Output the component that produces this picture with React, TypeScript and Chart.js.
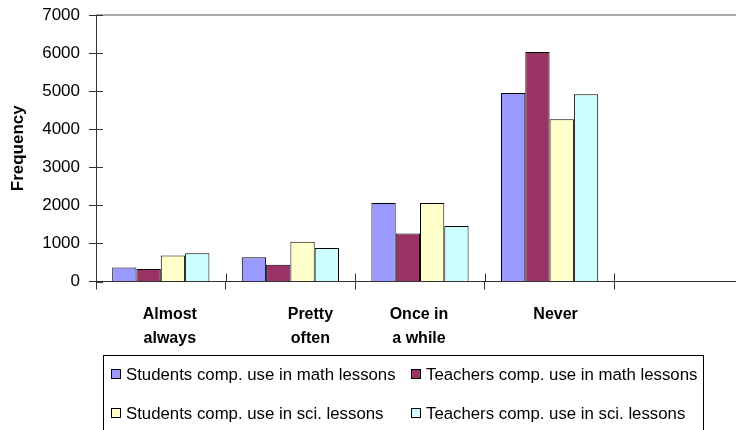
import React, { useEffect, useRef } from "react";
import { Chart, registerables } from "chart.js";

Chart.register(...registerables);

// Survey answer categories (the fifth slot is left empty)
const categories: (string | string[])[] = [
  ["Almost", "always"],
  ["Pretty", "often"],
  ["Once in", "a while"],
  ["Never"],
  "",
];

const seriesNames = [
  "Students comp. use in math lessons",
  "Teachers comp. use in math lessons",
  "Students comp. use in sci. lessons",
  "Teachers comp. use in sci. lessons",
];

const studentsMath = [370, 640, 2060, 4950];
const teachersMath = [330, 440, 1260, 6030];
const studentsSci = [680, 1045, 2060, 4260];
const teachersSci = [740, 880, 1460, 4920];

const yTicks = [0, 1000, 2000, 3000, 4000, 5000, 6000, 7000];

const seriesColors = ["#9999FF", "#993366", "#FFFFCC", "#CCFFFF"];

const FONT = "'Liberation Sans', Arial, sans-serif";

// Small horizontal shifts for the category captions
const captionShift = [9, 20, -1, 6, 0];

const decorations = {
  id: "decorations",
  afterDraw(chart: any) {
    const { ctx, chartArea } = chart;
    const { left, right, top, bottom } = chartArea;
    const yScale = chart.scales.y;
    const xScale = chart.scales.x;
    ctx.save();

    // grey frame line along the top of the plot
    ctx.strokeStyle = "#aaaaaa";
    ctx.lineWidth = 2;
    ctx.beginPath();
    ctx.moveTo(left, top);
    ctx.lineTo(right, top);
    ctx.stroke();

    // inner halves of the crossing tick marks
    ctx.strokeStyle = "#333333";
    ctx.lineWidth = 1;
    ctx.beginPath();
    yTicks.forEach((v) => {
      const py = Math.round(yScale.getPixelForValue(v)) + 0.5;
      ctx.moveTo(left, py);
      ctx.lineTo(left + 7, py);
    });
    const n = categories.length;
    for (let i = 0; i <= n; i++) {
      const px = Math.round(left + (i * (right - left)) / n) + 0.5;
      ctx.moveTo(px, bottom - 8);
      ctx.lineTo(px, bottom);
    }
    ctx.stroke();

    // category captions
    ctx.fillStyle = "#000";
    ctx.font = `bold 16px ${FONT}`;
    ctx.textAlign = "center";
    ctx.textBaseline = "middle";
    categories.forEach((label, i) => {
      const lines = Array.isArray(label) ? label : [label];
      const cx = xScale.getPixelForValue(i) + captionShift[i];
      lines.forEach((line, j) => {
        ctx.fillText(line, cx, bottom + 33 + j * 24);
      });
    });

    // legend box
    ctx.strokeStyle = "#000";
    ctx.lineWidth = 1;
    ctx.strokeRect(103.5, 355.5, 600, 120);
    ctx.font = `16.8px ${FONT}`;
    ctx.textAlign = "left";
    const colX = [111, 411];
    const rowY = [374, 413];
    chart.data.datasets.forEach((ds: any, i: number) => {
      const x0 = colX[i % 2];
      const y0 = rowY[Math.floor(i / 2)];
      ctx.fillStyle = ds.backgroundColor;
      ctx.fillRect(x0, y0 - 4.5, 9, 9);
      ctx.strokeStyle = "#000";
      ctx.strokeRect(x0 + 0.5, y0 - 4.5, 9, 9);
      ctx.fillStyle = "#000";
      ctx.fillText(ds.label, x0 + 15, y0 + 1);
    });

    ctx.restore();
  },
};

export default function App() {
  const canvasRef = useRef<HTMLCanvasElement | null>(null);

  useEffect(() => {
    if (!canvasRef.current) return;
    const values = [studentsMath, teachersMath, studentsSci, teachersSci];
    const chart = new Chart(canvasRef.current, {
      type: "bar",
      data: {
        labels: categories as any,
        datasets: seriesNames.map((name, i) => ({
          label: name,
          data: values[i],
          backgroundColor: seriesColors[i],
          borderColor: "#000000",
          borderWidth: 1,
          barPercentage: 1,
          categoryPercentage: 0.75,
        })),
      },
      options: {
        responsive: false,
        animation: false,
        devicePixelRatio: 1,
        layout: { padding: { top: 15, left: 0, right: 0, bottom: 0 } },
        plugins: {
          legend: { display: false },
          tooltip: { enabled: false },
        },
        scales: {
          x: {
            type: "category",
            offset: true,
            afterFit: (scale: any) => {
              scale.height = 148.5;
              scale.paddingLeft = 0;
              scale.paddingRight = 0;
            },
            ticks: { display: false },
            grid: {
              offset: true,
              drawOnChartArea: false,
              drawTicks: true,
              tickLength: 8,
              color: "#333333",
            },
            border: { display: true, color: "#333333", width: 1 },
          },
          y: {
            min: 0,
            max: 7000,
            afterFit: (scale: any) => {
              scale.width = 96;
              scale.paddingTop = 0;
              scale.paddingBottom = 0;
            },
            afterBuildTicks: (scale: any) => {
              scale.ticks = yTicks.map((v) => ({ value: v }));
            },
            ticks: {
              color: "#000",
              padding: 9,
              font: { family: FONT, size: 17 },
              callback: (value: any) => String(value),
            },
            grid: {
              drawOnChartArea: false,
              drawTicks: true,
              tickLength: 7,
              color: "#333333",
            },
            border: { display: true, color: "#333333", width: 1 },
            title: {
              display: true,
              text: "Frequency",
              color: "#000",
              font: { family: FONT, size: 17, weight: "bold" },
              padding: { top: 8, bottom: 0 },
            },
          },
        },
      },
      plugins: [decorations],
    });
    return () => chart.destroy();
  }, []);

  return (
    <div
      style={{
        position: "fixed",
        left: 0,
        top: 0,
        width: 736,
        height: 430,
        overflow: "hidden",
        background: "#fff",
      }}
    >
      <canvas
        ref={canvasRef}
        width={744}
        height={430}
        style={{ display: "block", width: 744, height: 430 }}
      />
    </div>
  );
}
